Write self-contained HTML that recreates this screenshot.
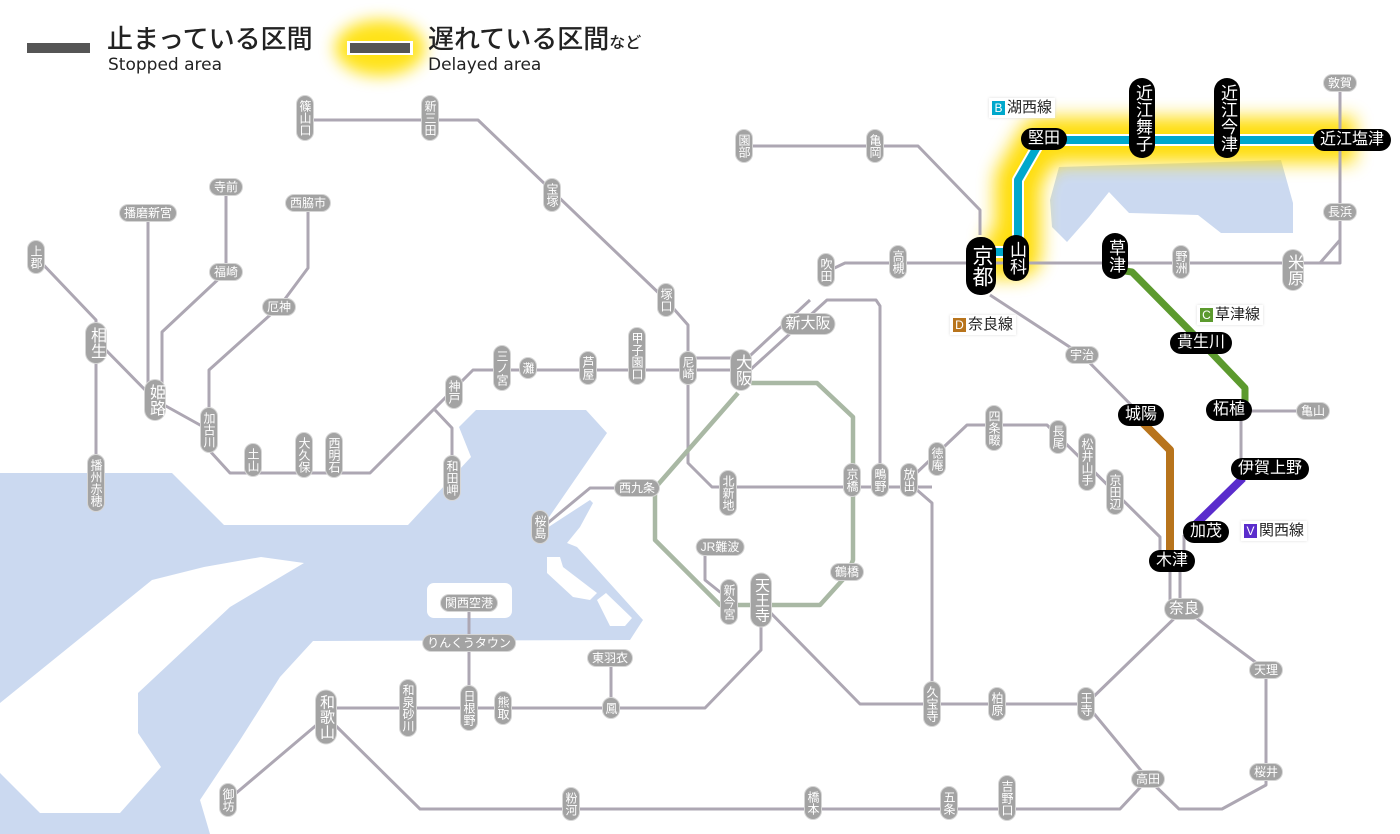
<!DOCTYPE html>
<html><head><meta charset="utf-8"><style>
html,body{margin:0;padding:0;background:#fff;}
#m{position:relative;width:1400px;height:834px;overflow:hidden;background:#fff;font-family:"Liberation Sans","Noto Sans CJK JP",sans-serif;}
svg{position:absolute;left:0;top:0;}
.s{position:absolute;transform:translate(-50%,-50%);background:#a3a3a3;color:#fff;font-size:12px;line-height:14px;border-radius:8px;padding:1px 4px;white-space:nowrap;box-shadow:0 0 0 1px #d6d6d6;}
.v{writing-mode:vertical-rl;text-orientation:upright;padding:4px 1px;letter-spacing:0;}
.L{font-size:16px;line-height:18px;border-radius:11px;}
.k{background:#000;font-size:16px;line-height:18px;border-radius:11px;padding:2px 7px;box-shadow:none;}
.k.v{padding:6px 3px;font-size:17px;line-height:20px;border-radius:13px;}
.lab{position:absolute;font-size:15px;line-height:18px;color:#222;background:#fff;padding:1px 3px;box-shadow:0 0 3px #ddd;white-space:nowrap;}
.lab b{display:inline-block;color:#fff;font-weight:normal;font-size:12px;line-height:14px;width:13px;text-align:center;margin-right:2px;}
</style></head><body><div id="m">
<svg width="1400" height="834" viewBox="0 0 1400 834">
<defs><filter id="bl" x="-20%" y="-50%" width="140%" height="200%"><feGaussianBlur stdDeviation="9"/></filter>
<filter id="bl2" x="-50%" y="-100%" width="200%" height="300%"><feGaussianBlur stdDeviation="8"/></filter></defs>
<polygon fill="#cbd9f0" points="0,473 172,473 224,525 408,525 471,457 459,427 476,410 586,410 607,433 545,523 547,528 590,500 593,503 580,527 567,543 577,547 643,620 630,640 313,641 280,677 240,740 200,800 210,834 0,834"/>
<polygon fill="#fff" points="204,567 261,557 304,563 230,607 138,693 138,733 161,767 120,813 40,813 0,773 0,703 152,580"/>
<rect x="427" y="583" width="85" height="35" rx="7" fill="#fff"/>
<polygon fill="#fff" points="547,557 560,557 563,567 597,593 590,600 573,597 547,573"/>
<polygon fill="#fff" points="597,600 606,593 632,618 625,626 610,626"/>
<polygon fill="#cbd9f0" points="1050,200 1059,167 1281,160 1293,203 1293,233 1221,233 1198,215 1129,213 1109,192 1089,217 1067,242 1052,227"/>
<ellipse cx="380" cy="48" rx="45" ry="28" fill="#ffe000" filter="url(#bl2)" opacity="0.9"/>
<rect x="27" y="43" width="63" height="10" fill="#555"/>
<rect x="347" y="41" width="66" height="14" fill="#fff"/>
<rect x="350" y="43" width="60" height="10" fill="#555"/>
<path d="M985,255 L1018,255 L1018,180 L1041,140 L1355,140" fill="none" stroke="#ffdc00" stroke-width="46" stroke-linejoin="round" filter="url(#bl)" opacity="0.95"/>
<g fill="none" stroke="#ada7b3" stroke-width="3" stroke-linejoin="round">
<path d="M305,120 L478,120 L666,300 L688,325 L688,463 L712,487 L932,487"/>
<path d="M36,257 L96,320 L96,483"/>
<path d="M96,340 L155,400 L209,430 L209,450 L230,473 L370,473 L473,370 L740,370"/>
<path d="M148,213 L148,400"/>
<path d="M162,400 L162,332 L226,272 L226,187"/>
<path d="M308,203 L308,268 L279,307 L209,370 L209,420"/>
<path d="M435,410 L452,428 L452,478"/>
<path d="M688,358 L740,358"/>
<path d="M740,365 L810,300 M750,370 L827,300 L876,300 L880,306 L880,480"/>
<path d="M826,285 L826,272 L845,263 L1340,263 L1340,83" />
<path d="M1290,263 L1320,263 L1340,240"/>
<path d="M744,146 L918,146 L980,210 L980,235"/>
<path d="M990,295 L1082,355 L1141,415"/>
<path d="M909,480 L967,425 L1047,425 L1160,537 L1160,552"/>
<path d="M917,490 L932,503 L932,704"/>
<path d="M761,603 L860,704 L1086,704 L1184,609 L1266,670 L1266,785 L1222,809 L1179,809 L1148,779 L1086,704"/>
<path d="M1148,779 L1120,809 L420,809 L335,725 L326,717 L228,800"/>
<path d="M326,708 L705,708 L761,650 L761,603"/>
<path d="M469,603 L469,708 M611,658 L611,708"/>
<path d="M705,547 L705,580 L720,592 L729,592"/>
<path d="M1229,411 L1313,411 M1241,411 L1241,469"/>
<path d="M1170,560 L1170,609 M1180,560 L1180,609 M1184,535 L1184,552"/>
<path d="M637,488 L590,488 L543,527"/>
</g>
<g fill="none" stroke="#a9b8a4" stroke-width="4.5" stroke-linejoin="round">
<path d="M741,383 L817,383 L853,417 L853,560 L847,575 L820,605 L720,605 L655,540 L655,488 L738,393"/>
</g>
<path d="M993,252 L1018,252 L1018,180 L1041,140 L1355,140" fill="none" stroke="#fff" stroke-width="12" stroke-linejoin="round"/>
<path d="M993,252 L1018,252 L1018,180 L1041,140 L1355,140" fill="none" stroke="#00a8cc" stroke-width="8" stroke-linejoin="round"/>
<path d="M1118,270 L1132,272 L1203,344 L1245,388 L1245,405" fill="none" stroke="#5c9a2e" stroke-width="7" stroke-linejoin="round"/>
<path d="M1143,423 L1170,450 L1170,552" fill="none" stroke="#b8741c" stroke-width="8" stroke-linejoin="round"/>
<path d="M1243,478 L1195,525" fill="none" stroke="#5a2ccc" stroke-width="8"/>
</svg>

<div style="position:absolute;left:107px;top:23px;font-size:26px;line-height:32px;color:#222;font-weight:500;">止まっている区間</div>
<div style="position:absolute;left:108px;top:55px;font-size:17px;line-height:20px;color:#222;font-family:'DejaVu Sans',sans-serif;">Stopped area</div>
<div style="position:absolute;left:428px;top:23px;font-size:26px;line-height:32px;color:#222;font-weight:500;">遅れている区間<span style="font-size:16px">など</span></div>
<div style="position:absolute;left:428px;top:55px;font-size:17px;line-height:20px;color:#222;font-family:'DejaVu Sans',sans-serif;">Delayed area</div>

<div class="lab" style="left:989px;top:98px;"><b style="background:#00a8cc">B</b>湖西線</div>
<div class="lab" style="left:950px;top:315px;"><b style="background:#b8741c">D</b>奈良線</div>
<div class="lab" style="left:1197px;top:305px;"><b style="background:#5c9a2e">C</b>草津線</div>
<div class="lab" style="left:1241px;top:521px;"><b style="background:#5a2ccc">V</b>関西線</div>

<div class="s v" style="left:305px;top:118px">篠山口</div>
<div class="s v" style="left:430px;top:118px">新三田</div>
<div class="s v" style="left:552px;top:195px">宝塚</div>
<div class="s v" style="left:666px;top:300px">塚口</div>
<div class="s v" style="left:36px;top:257px">上郡</div>
<div class="s v L" style="left:96px;top:343px">相生</div>
<div class="s v" style="left:96px;top:483px">播州赤穂</div>
<div class="s v L" style="left:155px;top:400px">姫路</div>
<div class="s" style="left:148px;top:213px">播磨新宮</div>
<div class="s" style="left:226px;top:187px">寺前</div>
<div class="s" style="left:226px;top:272px">福崎</div>
<div class="s" style="left:308px;top:203px">西脇市</div>
<div class="s" style="left:279px;top:307px">厄神</div>
<div class="s v" style="left:209px;top:430px">加古川</div>
<div class="s v" style="left:253px;top:460px">土山</div>
<div class="s v" style="left:304px;top:455px">大久保</div>
<div class="s v" style="left:334px;top:455px">西明石</div>
<div class="s v" style="left:454px;top:392px">神戸</div>
<div class="s v" style="left:452px;top:478px">和田岬</div>
<div class="s v" style="left:502px;top:368px">三ノ宮</div>
<div class="s v" style="left:528px;top:368px">灘</div>
<div class="s v" style="left:588px;top:368px">芦屋</div>
<div class="s v" style="left:637px;top:356px">甲子園口</div>
<div class="s v" style="left:688px;top:368px">尼崎</div>
<div class="s v L" style="left:741px;top:370px">大阪</div>
<div class="s L" style="left:808px;top:324px;font-size:15px">新大阪</div>
<div class="s v" style="left:826px;top:270px">吹田</div>
<div class="s v" style="left:898px;top:262px">高槻</div>
<div class="s v" style="left:744px;top:146px">園部</div>
<div class="s v" style="left:875px;top:146px">亀岡</div>
<div class="s v" style="left:1181px;top:262px">野洲</div>
<div class="s v L" style="left:1293px;top:270px">米原</div>
<div class="s" style="left:1340px;top:83px">敦賀</div>
<div class="s" style="left:1340px;top:212px">長浜</div>
<div class="s" style="left:1082px;top:355px">宇治</div>
<div class="s" style="left:1313px;top:411px">亀山</div>
<div class="s v" style="left:994px;top:428px">四条畷</div>
<div class="s v" style="left:1058px;top:437px">長尾</div>
<div class="s v" style="left:1087px;top:462px">松井山手</div>
<div class="s v" style="left:1115px;top:492px">京田辺</div>
<div class="s v" style="left:937px;top:459px">徳庵</div>
<div class="s v" style="left:909px;top:480px">放出</div>
<div class="s v" style="left:880px;top:480px">鴫野</div>
<div class="s v" style="left:852px;top:480px">京橋</div>
<div class="s v" style="left:728px;top:493px">北新地</div>
<div class="s" style="left:637px;top:488px">西九条</div>
<div class="s v" style="left:540px;top:527px">桜島</div>
<div class="s" style="left:720px;top:547px">JR難波</div>
<div class="s" style="left:847px;top:572px">鶴橋</div>
<div class="s v" style="left:729px;top:602px">新今宮</div>
<div class="s v L" style="left:761px;top:600px;font-size:15px">天王寺</div>
<div class="s" style="left:469px;top:603px">関西空港</div>
<div class="s" style="left:469px;top:643px">りんくうタウン</div>
<div class="s" style="left:610px;top:658px">東羽衣</div>
<div class="s v L" style="left:326px;top:717px;font-size:15px">和歌山</div>
<div class="s v" style="left:408px;top:708px">和泉砂川</div>
<div class="s v" style="left:469px;top:708px">日根野</div>
<div class="s v" style="left:503px;top:708px">熊取</div>
<div class="s v" style="left:611px;top:708px">鳳</div>
<div class="s v" style="left:228px;top:800px">御坊</div>
<div class="s v" style="left:571px;top:804px">粉河</div>
<div class="s v" style="left:813px;top:803px">橋本</div>
<div class="s v" style="left:949px;top:803px">五条</div>
<div class="s v" style="left:1007px;top:798px">吉野口</div>
<div class="s v" style="left:932px;top:704px">久宝寺</div>
<div class="s v" style="left:997px;top:704px">柏原</div>
<div class="s v" style="left:1086px;top:704px">王寺</div>
<div class="s L" style="left:1184px;top:609px;font-size:15px">奈良</div>
<div class="s" style="left:1266px;top:670px">天理</div>
<div class="s" style="left:1266px;top:772px">桜井</div>
<div class="s" style="left:1148px;top:779px">高田</div>

<div class="s k v" style="left:981px;top:266px;font-size:21px;line-height:24px;padding:8px 3px;border-radius:14px">京都</div>
<div class="s k v" style="left:1016px;top:258px">山科</div>
<div class="s k" style="left:1044px;top:139px">堅田</div>
<div class="s k v" style="left:1142px;top:118px">近江舞子</div>
<div class="s k v" style="left:1227px;top:118px">近江今津</div>
<div class="s k" style="left:1352px;top:140px">近江塩津</div>
<div class="s k v" style="left:1115px;top:256px">草津</div>
<div class="s k" style="left:1201px;top:343px">貴生川</div>
<div class="s k" style="left:1229px;top:410px">柘植</div>
<div class="s k" style="left:1141px;top:415px">城陽</div>
<div class="s k" style="left:1270px;top:469px">伊賀上野</div>
<div class="s k" style="left:1206px;top:532px">加茂</div>
<div class="s k" style="left:1172px;top:561px">木津</div>
</div></body></html>
